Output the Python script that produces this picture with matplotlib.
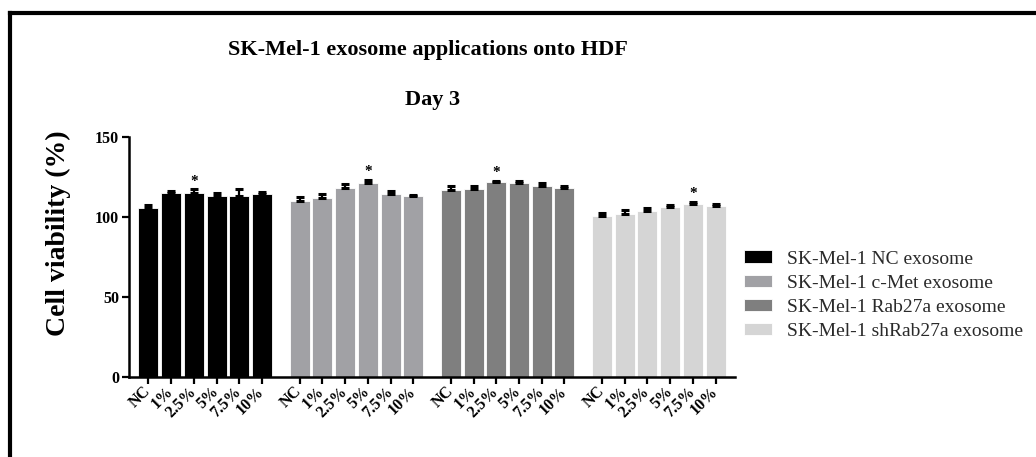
import numpy as np
import matplotlib
matplotlib.use("Agg")
import matplotlib.pyplot as plt
from matplotlib.lines import Line2D

plt.rcParams['font.family'] = ['Liberation Serif', 'DejaVu Serif']

# data (cell viability %, mean and upper error)
doses = ['NC', '1%', '2.5%', '5%', '7.5%', '10%']
groups = ['SK-Mel-1 NC exosome', 'SK-Mel-1 c-Met exosome',
          'SK-Mel-1 Rab27a exosome', 'SK-Mel-1 shRab27a exosome']
nc_mean = [105.5, 114.5, 115.0, 113.0, 113.0, 114.0]
nc_err = [2.0, 1.5, 2.0, 1.5, 4.0, 1.5]
cmet_mean = [109.8, 111.9, 117.7, 120.9, 114.2, 112.9]
cmet_err = [2.5, 2.5, 2.5, 2.0, 2.0, 0.8]
rab_mean = [116.7, 117.3, 121.5, 120.8, 119.2, 117.7]
rab_err = [2.5, 2.0, 0.8, 1.5, 2.0, 1.5]
shrab_mean = [100.6, 101.5, 103.8, 105.9, 107.8, 106.9]
shrab_err = [2.0, 2.5, 1.5, 1.5, 1.5, 0.8]
means = [nc_mean, cmet_mean, rab_mean, shrab_mean]
errs = [nc_err, cmet_err, rab_err, shrab_err]
# index of the dose marked with a star in each group
star_idx = [2, 3, 2, 4]

colors = ['#000000', '#a1a1a5', '#7f7f7f', '#d5d5d5']

fig = plt.figure(figsize=(10.36, 4.57), dpi=100)
ax = fig.add_axes([0.1245, 0.1757, 0.585, 0.5252])

group_step = 6.65
n = len(doses)
all_pos = []
handles = []
for g in range(len(groups)):
    pos = g * group_step + np.arange(n)
    all_pos.extend(pos)
    m = np.array(means[g])
    e = np.array(errs[g])
    b = ax.bar(pos, m, width=0.88, color=colors[g], edgecolor='white', linewidth=0.6,
               label=groups[g], zorder=2)
    handles.append(b)
    ax.errorbar(pos, m, yerr=[np.zeros(n), e], fmt='none', ecolor='black',
                elinewidth=1.6, capsize=3.2, capthick=2.2, zorder=3)
    k = star_idx[g]
    ax.text(pos[k], m[k] + e[k] + 1.0, '*', ha='center', va='bottom',
            fontsize=11, fontweight='bold')

ax.set_xlim(-0.85, 3 * group_step + n - 1 + 0.85)
ax.set_ylim(0, 150)
ax.set_yticks([0, 50, 100, 150])
ax.set_xticks(all_pos)
ax.set_xticklabels(doses * len(groups), rotation=45, ha='right', va='center',
                   rotation_mode='anchor', fontsize=11.5, fontweight='bold')
ax.tick_params(axis='x', length=5, width=1.6, pad=4)
ax.tick_params(axis='y', length=5, width=1.6, labelsize=11.5, pad=2)
for t in ax.get_yticklabels():
    t.set_fontweight('bold')

for s in ['top', 'right']:
    ax.spines[s].set_visible(False)
for s in ['left', 'bottom']:
    ax.spines[s].set_linewidth(1.8)

ax.set_ylabel('Cell viability (%)', fontsize=20, fontweight='bold')
ax.yaxis.set_label_coords(-0.096, 0.60)

fig.text(0.413, 0.8906, 'SK-Mel-1 exosome applications onto HDF', ha='center',
         va='center', fontsize=16, fontweight='bold')
fig.text(0.418, 0.781, 'Day 3', ha='center', va='center', fontsize=16,
         fontweight='bold')

leg = fig.legend(handles=handles, loc='center left', bbox_to_anchor=(0.7105, 0.354),
                 frameon=False, fontsize=14, handlelength=1.45, handleheight=0.62,
                 handletextpad=0.75, labelspacing=0.36, borderaxespad=0)
for t in leg.get_texts():
    t.set_color('#2a2a2a')

# outer frame lines (left and top edges)
fig.add_artist(Line2D([10 / 1036, 10 / 1036], [0, 1 - 13 / 457], color='black',
                      linewidth=3, transform=fig.transFigure))
fig.add_artist(Line2D([10 / 1036, 1], [1 - 13 / 457, 1 - 13 / 457], color='black',
                      linewidth=3, transform=fig.transFigure))

fig.savefig('out.png', dpi=100)
